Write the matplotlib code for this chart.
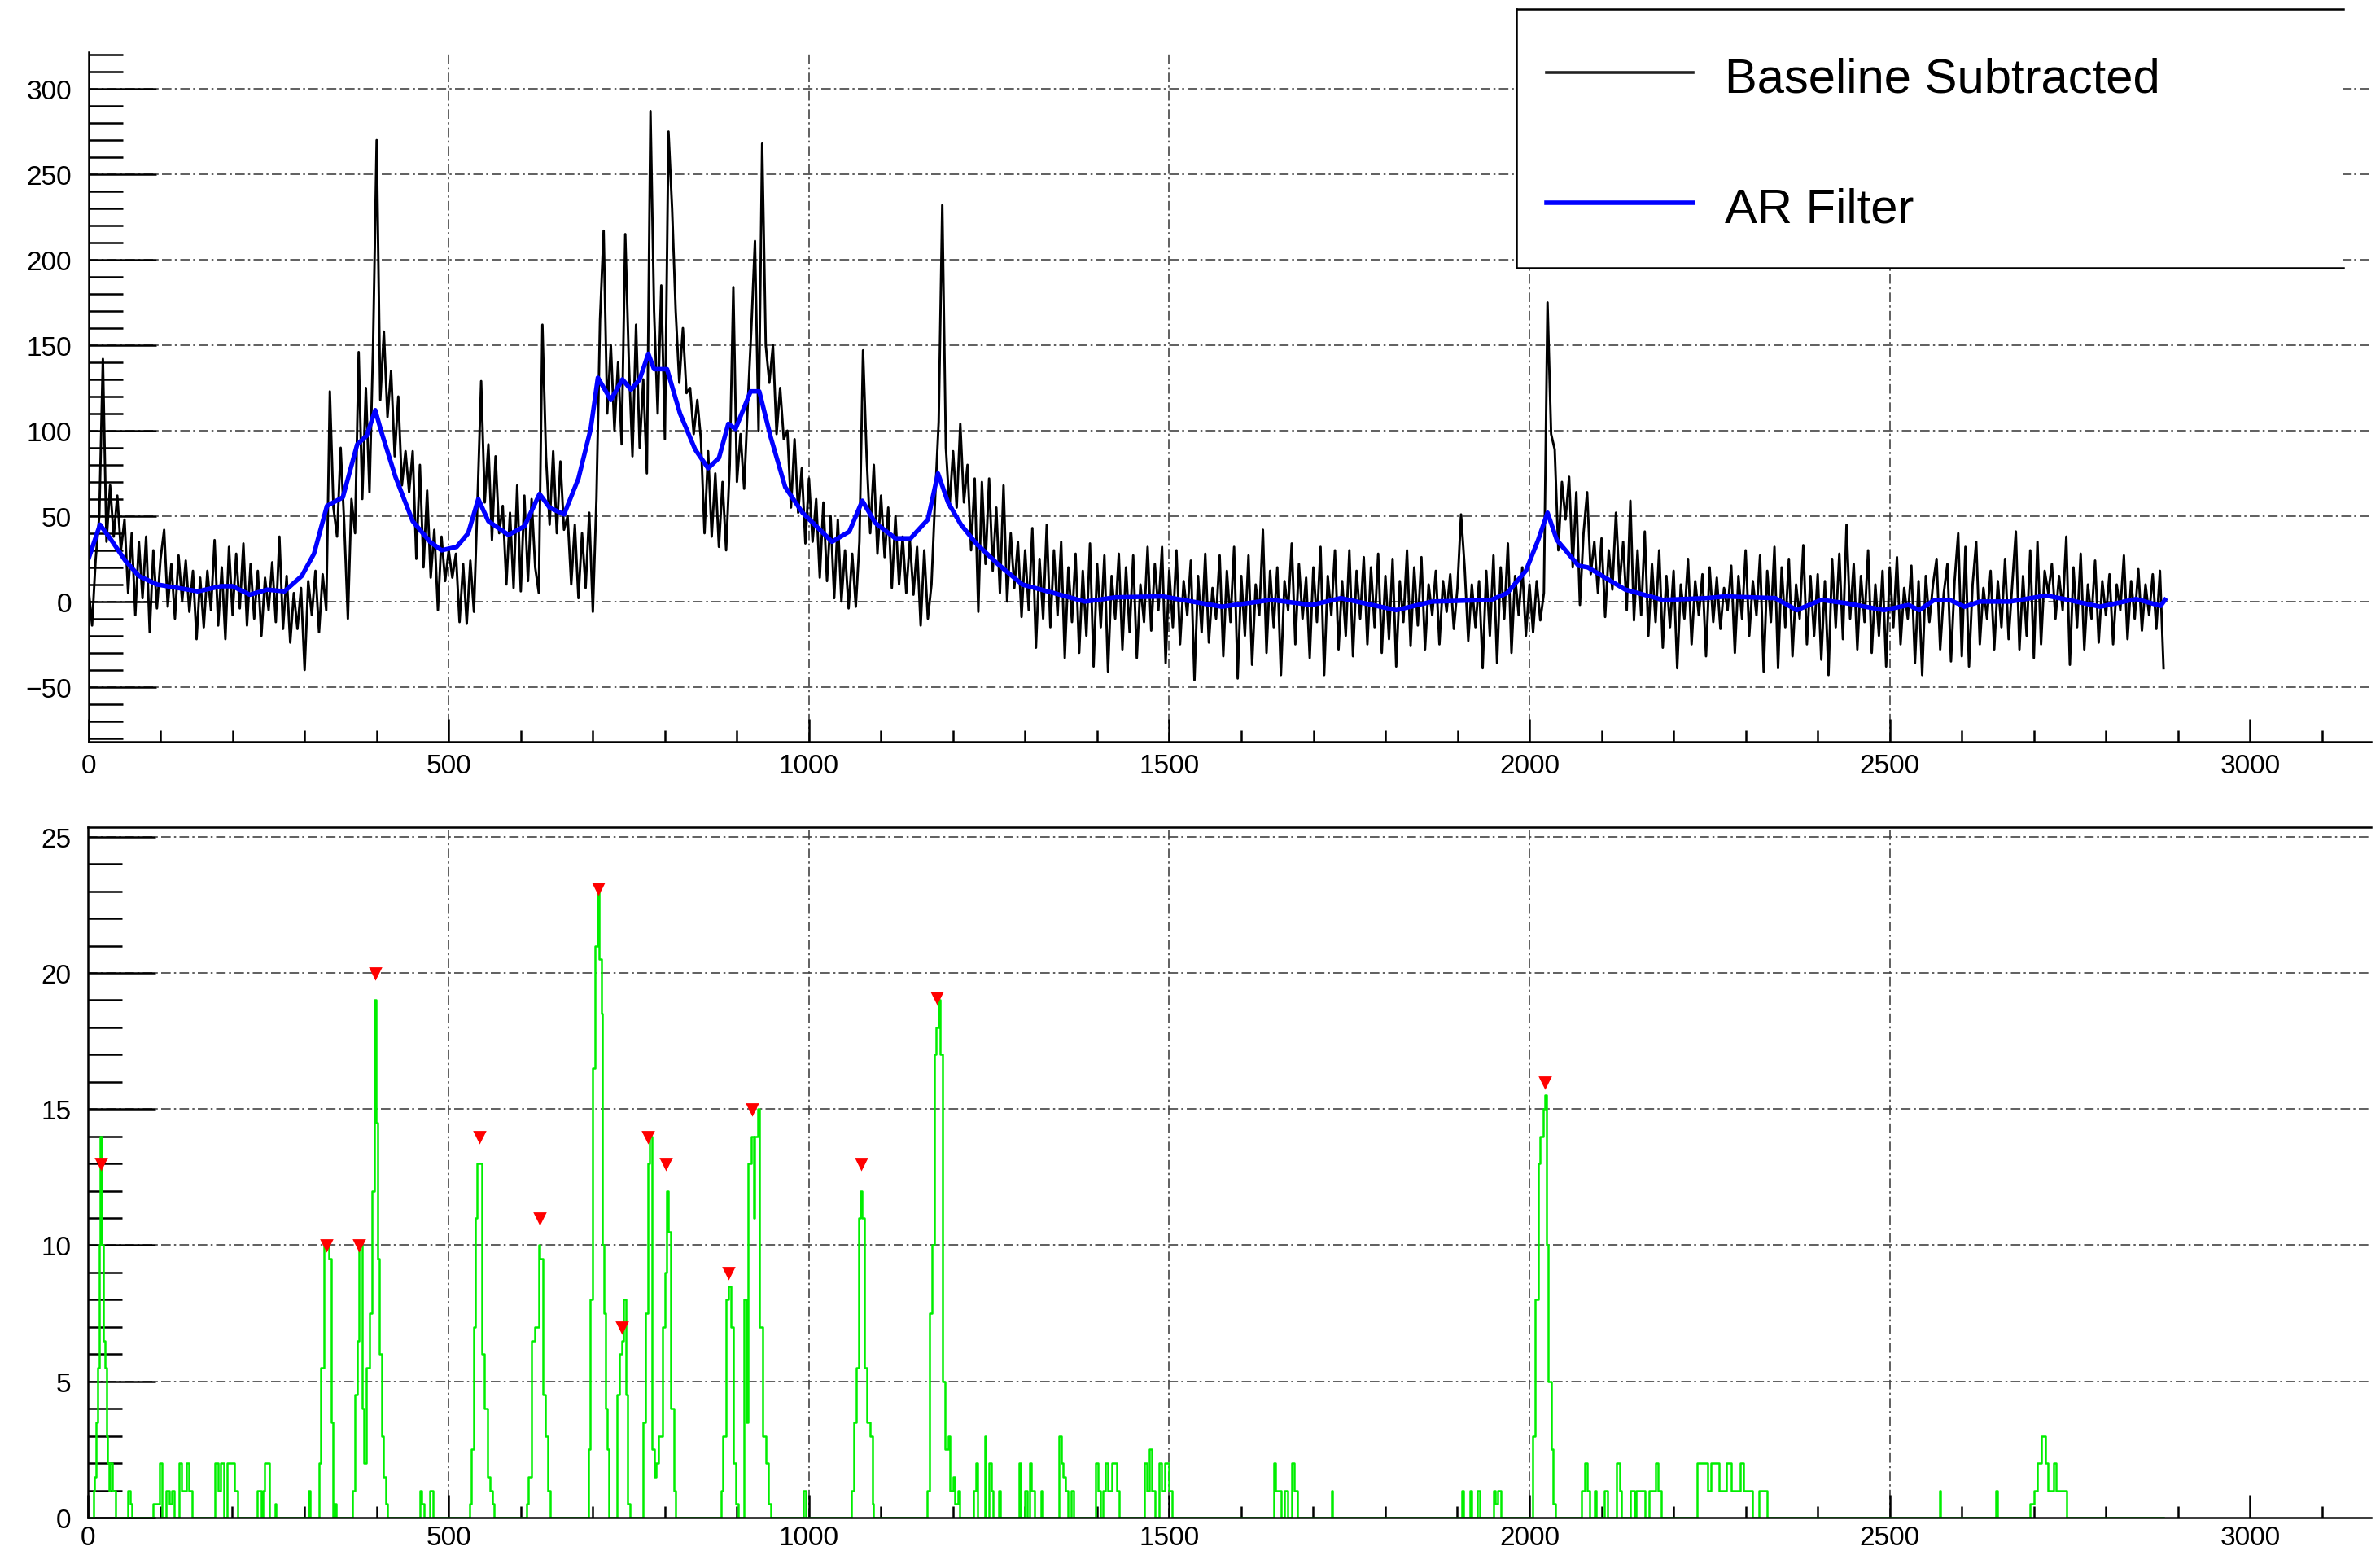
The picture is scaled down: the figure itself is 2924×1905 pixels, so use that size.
import numpy as np
import matplotlib
matplotlib.use("Agg")
import matplotlib.pyplot as plt
from matplotlib.lines import Line2D
from matplotlib.patches import Rectangle
from matplotlib.ticker import MultipleLocator

plt.rcParams['font.family'] = ['Liberation Sans', 'DejaVu Sans']

# ---------------- data ----------------
# Baseline-subtracted trace, sampled every 5 channels (0 .. 2880)
black_step = 5
black_y = [
    8, -14, 25, 50, 142, 35, 68, 38, 62, 30,
    48, 5, 40, -8, 35, 2, 38, -18, 30, -4,
    25, 42, -3, 22, -10, 27, 0, 24, -6, 18,
    -22, 14, -15, 18, -5, 36, -14, 20, -22, 32,
    -8, 28, -4, 34, -14, 22, -10, 18, -20, 14,
    -5, 23, -12, 38, -16, 15, -24, 5, -16, 8,
    -40, 12, -8, 18, -18, 16, -5, 123, 55, 38,
    90, 45, -10, 60, 40, 146, 60, 125, 64, 150,
    270, 118, 158, 108, 135, 85, 120, 68, 88, 64,
    88, 25, 80, 20, 65, 14, 42, -5, 38, 12,
    30, 14, 28, -12, 22, -13, 24, -6, 60, 129,
    58, 92, 36, 85, 40, 56, 10, 52, 8, 68,
    6, 62, 12, 60, 20, 5, 162, 85, 45, 88,
    40, 82, 42, 50, 10, 45, 2, 40, 8, 52,
    -6, 60, 165, 217, 110, 150, 100, 140, 92, 215,
    140, 85, 162, 90, 130, 75, 287, 170, 110, 185,
    95, 275, 230, 170, 128, 160, 122, 125, 98, 118,
    95, 40, 88, 38, 75, 32, 70, 30, 80, 184,
    70, 98, 66, 115, 160, 211, 100, 268, 150, 128,
    150, 98, 125, 95, 100, 55, 95, 52, 78, 34,
    72, 35, 60, 14, 58, 12, 50, 2, 48, 0,
    30, -4, 28, -3, 35, 147, 85, 40, 80, 28,
    62, 26, 55, 8, 50, 10, 38, 5, 36, 4,
    32, -14, 30, -10, 10, 60, 105, 232, 90, 55,
    88, 55, 104, 58, 80, 30, 72, -6, 70, 22,
    72, 18, 55, 5, 68, 0, 40, 8, 35, -9,
    30, -5, 43, -27, 25, -10, 45, -15, 30, -8,
    35, -33, 20, -12, 28, -30, 18, -20, 34, -38,
    22, -15, 27, -41, 15, -10, 28, -28, 20, -18,
    27, -33, 10, -12, 32, -17, 22, -5, 32, -36,
    18, -15, 30, -25, 12, -8, 24, -46, 15, -18,
    28, -24, 8, -10, 27, -32, 18, -12, 32, -45,
    15, -20, 27, -37, 10, -8, 42, -30, 18, -15,
    20, -43, 12, -5, 34, -25, 22, -10, 14, -33,
    20, -12, 32, -43, 15, -8, 30, -28, 12, -20,
    30, -32, 18, -10, 26, -25, 20, -15, 28, -30,
    15, -22, 25, -38, 12, -12, 30, -26, 20, -14,
    26, -28, 10, -8, 18, -25, 12, -6, 16, -16,
    8, 51, 20, -23, 10, -15, 12, -39, 18, -20,
    27, -36, 20, -10, 34, -30, 15, -8, 20, -20,
    10, -18, 12, -11, 5, 175, 98, 89, 30, 70,
    48, 73, 20, 64, -2, 40, 64, 16, 35, 5,
    37, -9, 30, 7, 52, 10, 35, -5, 59, -11,
    30, -8, 41, -20, 22, -12, 30, -27, 15, -15,
    18, -39, 10, -10, 25, -25, 12, -8, 16, -32,
    20, -12, 14, -16, 8, -5, 21, -30, 15, -10,
    30, -20, 12, -8, 27, -41, 18, -12, 32, -39,
    20, -15, 25, -32, 10, -10, 33, -25, 15, -20,
    16, -34, 12, -43, 25, -15, 28, -22, 45, -10,
    22, -28, 15, -12, 30, -30, 10, -20, 18, -38,
    20, -15, 26, -25, 8, -10, 21, -36, 12, -43,
    15, -12, 10, 25, -28, 5, 22, -35, 12, 40,
    -32, 32, -38, 10, 35, -25, 8, -10, 18, -28,
    12, -15, 25, -22, 10, 41, -28, 15, -20, 30,
    -33, 35, -25, 18, 5, 22, -10, 15, -5, 38,
    -37, 20, -15, 28, -28, 10, -10, 24, -24, 12,
    -8, 16, -25, 10, -5, 27, -22, 12, -10, 19,
    -17, 10, -8, 16, -16, 18, -39,
]

# AR filter output (knots)
ar_x = [0, 16, 30, 51, 70, 95, 124, 152, 184, 200, 224, 248, 272, 296, 313, 331,
        353, 373, 386, 398, 406, 426, 450, 474, 490, 511, 527, 541, 555, 583, 605,
        626, 640, 660, 680, 697, 707, 725, 741, 753, 765, 777, 785, 803, 821, 842,
        860, 875, 888, 898, 919, 931, 947, 967, 991, 1032, 1056, 1074, 1092, 1120,
        1141, 1165, 1179, 1193, 1211, 1232, 1262, 1296, 1331, 1383, 1426, 1491,
        1573, 1642, 1698, 1738, 1815, 1865, 1947, 1969, 1995, 2012, 2025, 2038,
        2068, 2081, 2133, 2185, 2246, 2271, 2341, 2371, 2405, 2440, 2492, 2526,
        2541, 2562, 2583, 2604, 2625, 2667, 2717, 2742, 2792, 2842, 2876, 2882]
ar_y = [25, 45, 37, 24, 15, 10, 8, 6, 9, 9, 4, 7, 6, 15, 28, 56,
        61, 92, 97, 112, 100, 73, 47, 35, 30, 32, 40, 60, 47, 39, 44,
        63, 55, 51, 72, 101, 131, 118, 130, 124, 130, 145, 136, 136, 110, 89,
        78, 84, 104, 101, 123, 123, 96, 67, 52, 35, 41, 59, 46, 37,
        37, 48, 75, 58, 45, 34, 22, 10, 6, 0, 2.5, 3,
        -3, 1, -2, 2, -5, 0, 1, 5, 18, 36, 52, 36,
        21, 20, 7, 1, 2, 3, 2, -5, 1, -1, -5, -2,
        -5, 1, 1, -3, 0, 0, 3.5, 1.5, -3, 1.5, -2.5, 1]

# Peak-search histogram (step values)
green_x = [0, 7, 9, 11, 13, 15, 17, 19, 21, 23, 25, 27, 29, 30, 33, 38,
           55, 58, 60, 90, 99, 102, 108, 113, 116, 119, 126, 130, 136, 140, 144,
           176, 180, 184, 188, 193, 199, 203, 207, 234, 240, 242, 245, 250, 252, 259, 261,
           306, 308, 320, 323, 327, 331, 334, 337, 340, 342, 344,
           367, 370, 374, 376, 380, 383, 386, 390, 394, 397, 399, 402, 404, 407, 410, 413, 415,
           460, 463, 466, 474, 478,
           529, 532, 535, 537, 539, 543, 546, 550, 554, 557, 561, 563,
           608, 611, 615, 620, 625, 627, 631, 634, 638, 641,
           694, 697, 700, 703, 707, 709, 712, 714, 716, 718, 720, 722,
           734, 737, 741, 743, 746, 749, 752,
           770, 773, 777, 779, 782, 786, 788, 791, 797, 800, 803, 805, 808, 813, 815,
           878, 881, 885, 888, 892, 895, 899, 902,
           910, 913, 916, 920, 923, 925, 929, 931, 936, 940, 944, 947,
           993, 996,
           1059, 1062, 1066, 1069, 1072, 1074, 1077, 1081, 1085, 1088, 1090,
           1164, 1167, 1171, 1174, 1177, 1180, 1182, 1186, 1189, 1193, 1196, 1200, 1203, 1207, 1209,
           1228, 1232, 1234, 1244, 1246, 1250, 1253, 1256, 1264, 1266,
           1292, 1294, 1300, 1303, 1306, 1309, 1313, 1322, 1324,
           1347, 1350, 1353, 1356, 1360, 1364, 1368,
           1398, 1401, 1405, 1408, 1412, 1415, 1420, 1423, 1427, 1431,
           1466, 1469, 1473, 1476, 1480, 1486, 1490, 1494, 1497, 1500, 1504,
           1645, 1648, 1652, 1655, 1660, 1664, 1670, 1674, 1678, 1725, 1727,
           1906, 1909, 1917, 1920, 1928, 1931, 1950, 1953, 1956, 1960,
           2005, 2008, 2012, 2015, 2019, 2021, 2024, 2026, 2030, 2033, 2036,
           2072, 2077, 2080, 2084, 2090, 2093, 2104, 2108, 2121, 2125, 2128,
           2140, 2146, 2148, 2156, 2160, 2166, 2172, 2175, 2178, 2183,
           2233, 2247, 2252, 2263, 2273, 2280, 2293, 2297, 2305, 2310, 2318, 2330,
           2569, 2571, 2647, 2649,
           2695, 2700, 2705, 2711, 2716, 2720, 2727, 2731, 2737, 2745, 2880]
green_y = [0, 1, 1.5, 3.5, 5.5, 10, 14, 10, 6.5, 5.5, 3, 2, 1, 2, 1, 0,
           1, 0.5, 0, 0.5, 2, 0, 1, 0.5, 1, 0, 2, 1, 2, 1, 0,
           2, 1, 2, 0, 2, 2, 1, 0, 1, 0, 1, 2, 2, 0, 0.5, 0,
           1, 0, 2, 5.5, 10, 10, 9.5, 3.5, 0, 0.5, 0,
           1, 4.5, 6.5, 10, 4, 2, 5.5, 7.5, 12, 19, 14.5, 9.5, 6, 3, 1.5, 0.5, 0,
           1, 0.5, 0, 1, 0,
           0.5, 2.5, 7, 11, 13, 13, 6, 4, 1.5, 1, 0.5, 0,
           0.5, 1.5, 6.5, 7, 10, 9.5, 4.5, 3, 1, 0,
           2.5, 8, 16.5, 21, 23, 20.5, 18.5, 10, 7.5, 4, 2.5, 0,
           4.5, 6, 6.5, 8, 4.5, 0.5, 0,
           3.5, 7.5, 13, 14, 2.5, 1.5, 2, 3, 7, 9, 12, 10.5, 4, 1, 0,
           1, 3, 8, 8.5, 7, 2, 0.5, 0,
           8, 3.5, 13, 14, 11, 14, 15, 7, 3, 2, 0.5, 0,
           1, 0,
           1, 3.5, 5.5, 11, 12, 11, 5.5, 3.5, 3, 0.5, 0,
           1, 7.5, 10, 17, 18, 19, 17, 5, 2.5, 3, 1, 1.5, 0.5, 1, 0,
           1, 2, 0, 3, 0, 2, 1, 0, 1, 0,
           2, 0, 1, 0, 2, 1, 0, 1, 0,
           3, 2, 1.5, 1, 0, 1, 0,
           2, 1, 0, 1, 2, 1, 2, 2, 1, 0,
           2, 1, 2.5, 1, 0, 2, 1, 2, 2, 1, 0,
           2, 1, 1, 0, 1, 0, 2, 1, 0, 1, 0,
           1, 0, 1, 0, 1, 0, 1, 0.5, 1, 0,
           3, 8, 13, 14, 15, 15.5, 10, 5, 2.5, 0.5, 0,
           1, 2, 1, 0, 1, 0, 1, 0, 2, 1, 0,
           1, 0, 1, 1, 0, 1, 1, 2, 1, 0,
           2, 1, 2, 1, 2, 1, 2, 1, 1, 0, 1, 0,
           1, 0, 1, 0,
           0.5, 1, 2, 3, 2, 1, 2, 1, 1, 0, 0]

# Found peaks (markers)
peak_x = [18, 331, 376, 398, 543, 626, 708, 741, 777, 802, 889, 921, 1073, 1178, 2021]
peak_y = [13, 10, 10, 20, 14, 11, 23.1, 7, 14, 13, 9, 15, 13, 19.1, 16]

legend_labels = ["Baseline Subtracted", "AR Filter"]

# ---------------- figure ----------------
W, H, DPI = 2924, 1906, 200
fig = plt.figure(figsize=(W / DPI, H / DPI), dpi=DPI)
fig.patch.set_facecolor('white')


def fx(px):
    return px / W


def fy(py):
    return 1 - py / H


ax1 = fig.add_axes([fx(108.7), fy(912), (2913 - 108.7) / W, (912 - 65) / H])
ax2 = fig.add_axes([fx(108.4), fy(1865), (2913 - 108.4) / W, (1865 - 1017) / H])

ax1.set_xlim(0, 3168)
ax1.set_ylim(-82, 321.5)
ax2.set_xlim(0, 3168)
ax2.set_ylim(0, 25.35)

grid_kw = dict(color='#444444', lw=0.6, dashes=(7, 2.5, 1.5, 2.5), zorder=1)
for ax in (ax1, ax2):
    for v in [500, 1000, 1500, 2000, 2500]:
        ax.axvline(v, **grid_kw)
for v in [-50, 0, 50, 100, 150, 200, 250, 300]:
    ax1.axhline(v, **grid_kw)
for v in [5, 10, 15, 20, 25]:
    ax2.axhline(v, **grid_kw)

black_x = np.arange(len(black_y)) * black_step
ax1.plot(black_x, black_y, color='black', lw=1.05, zorder=3)
ax1.plot(ar_x, ar_y, color='#0000ff', lw=2.0, zorder=4)

ax2.step(green_x, green_y, where='post', color='#00ee00', lw=0.9, zorder=3)
ax2.plot(peak_x, peak_y, linestyle='none', marker='v', color='#ff0000',
         markersize=4.2, zorder=5)

for ax, ymaj, ymin in ((ax1, 50, 10), (ax2, 5, 1)):
    ax.xaxis.set_major_locator(MultipleLocator(500))
    ax.xaxis.set_minor_locator(MultipleLocator(100))
    ax.yaxis.set_major_locator(MultipleLocator(ymaj))
    ax.yaxis.set_minor_locator(MultipleLocator(ymin))
    ax.tick_params(axis='y', which='major', direction='in', length=30, width=0.9,
                   pad=7.5, labelsize=12, right=False)
    ax.tick_params(axis='y', which='minor', direction='in', length=15, width=0.9, right=False)
    ax.tick_params(axis='x', which='major', direction='in', length=10, width=0.9,
                   labelsize=12, top=False)
    ax.tick_params(axis='x', which='minor', direction='in', length=5, width=0.9, top=False)
    ax.spines['right'].set_visible(False)
    for s in ax.spines.values():
        s.set_linewidth(0.9)
        s.set_zorder(6)
    ax.set_facecolor('none')

ax1.tick_params(axis='x', which='major', pad=5)
ax2.tick_params(axis='x', which='major', pad=3.2)
ax1.spines['top'].set_visible(False)

# legend box (figure coordinates)
lx0, lx1, ly0, ly1 = 1863, 2879, 12, 330
fig.add_artist(Rectangle((fx(lx0), fy(ly1)), (lx1 - lx0) / W, (ly1 - ly0) / H,
                         transform=fig.transFigure, facecolor='white',
                         edgecolor='none', zorder=10))
for xs, ys in (([lx0, lx0], [ly0, ly1]), ([lx0, lx1], [ly0, ly0]), ([lx0, lx1], [ly1, ly1])):
    fig.add_artist(Line2D([fx(v) for v in xs], [fy(v) for v in ys], color='black',
                          lw=0.9, transform=fig.transFigure, zorder=11))
fig.add_artist(Line2D([fx(1900), fx(2080)], [fy(90), fy(90)], color='#222222', lw=1.3,
                      transform=fig.transFigure, zorder=11))
fig.add_artist(Line2D([fx(1900), fx(2080)], [fy(250), fy(250)], color='#0000ff', lw=2.0,
                      transform=fig.transFigure, zorder=11))
fig.text(fx(2119), fy(113), legend_labels[0], fontsize=21.5, ha='left', va='baseline',
         color='black', zorder=12)
fig.text(fx(2119), fy(273), legend_labels[1], fontsize=21.5, ha='left', va='baseline',
         color='black', zorder=12)

fig.savefig('out.png', dpi=DPI, facecolor='white')
